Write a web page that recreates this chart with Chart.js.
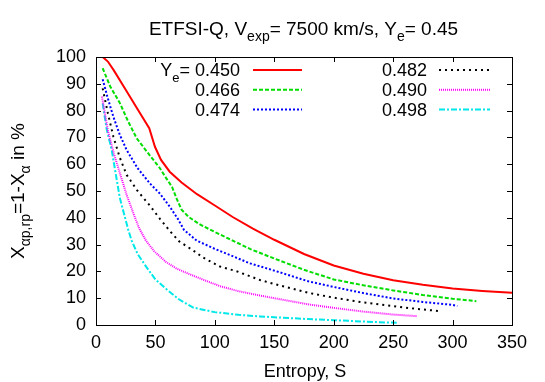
<!DOCTYPE html>
<html>
<head>
<meta charset="utf-8">
<script src="https://cdn.jsdelivr.net/npm/chart.js@4.4.1/dist/chart.umd.min.js"></script>
<style>
  html, body { margin: 0; padding: 0; background: #fff; }
  #wrap { width: 545px; height: 382px; }
</style>
</head>
<body>
<div id="wrap"><canvas id="chart"></canvas></div>
<script>
// Entropy S vs X_ap,rp (%) for each Ye
const S_450 = [5.6, 10, 15, 25, 35, 44.8, 49.6, 54.7, 62, 72, 85, 100, 115, 132, 150, 175, 200, 225, 250, 275, 300, 325, 350];
const X_450 = [100, 98.3, 95, 87.8, 80.5, 73.4, 66.5, 61.6, 57.2, 53.2, 48.8, 44.6, 40.3, 36, 31.8, 26.5, 22.2, 19.1, 16.7, 15, 13.6, 12.7, 12];

const S_466 = [5.6, 12, 20.2, 27, 34.2, 44, 53.8, 58, 64, 68, 72, 78, 87.5, 100, 115, 130, 150, 175, 200, 225, 250, 275, 300, 320];
const X_466 = [95.8, 89, 82.7, 76, 69.7, 64, 58.5, 55.5, 51.5, 47, 43, 40.3, 37.5, 34.7, 31.5, 28.3, 24.8, 20.6, 17, 14.8, 12.9, 11.2, 9.8, 8.9];

const S_474 = [5.6, 10, 14.6, 20, 25.8, 35, 45.4, 53.8, 62.3, 69, 74, 84.7, 100, 110, 129.5, 150, 178.6, 200, 225, 250, 275, 300, 304];
const X_474 = [91.7, 84.5, 77.7, 71, 65.3, 58.5, 52.8, 49, 44, 39.5, 35.5, 31.5, 28.4, 26.6, 23, 20.3, 16.3, 14.2, 11.9, 9.9, 8.6, 7.5, 7.1];

const S_482 = [5.6, 10, 14.6, 20, 25.8, 35, 45.4, 53.8, 62.3, 70, 81.8, 90, 104.3, 118, 137.9, 150, 178.6, 200, 225, 250, 270, 289];
const X_482 = [88.3, 79, 70.3, 62.5, 56, 50, 44.5, 39.6, 35, 31.2, 27.8, 25.2, 21.8, 20.1, 16.8, 15.3, 12, 10.2, 8.4, 7, 6, 5.2];

const S_490 = [5, 10, 15, 20.2, 25.8, 32, 36.4, 42, 49, 58.9, 68, 78.5, 92.5, 104.3, 120, 137.9, 150, 178.6, 200, 225, 250, 270];
const X_490 = [85.2, 72.5, 64, 56.5, 48.5, 41, 36, 31.5, 27.5, 23.5, 21, 19, 16.5, 14.5, 12.6, 11, 10, 7.7, 6.4, 5, 3.9, 3.3];

const S_498 = [5.6, 9, 13.2, 20, 27.2, 30, 35, 42.6, 50, 59.4, 70, 81.8, 100, 120, 137.9, 150, 178.6, 200, 225, 253];
const X_498 = [82.7, 73, 65.3, 47.5, 35.4, 31.5, 26.5, 21.5, 17, 13.3, 9.5, 6.5, 4.8, 3.8, 3.2, 2.9, 2.2, 1.8, 1.3, 0.8];

const X_TICKS = [0, 50, 100, 150, 200, 250, 300, 350];
const Y_TICKS = [0, 10, 20, 30, 40, 50, 60, 70, 80, 90, 100];

const FONT_FAMILY = '"Liberation Sans", Arial, Helvetica, sans-serif';

const SERIES = [
  { ye: '0.450', s: S_450, x: X_450, color: '#ff0000', dash: [] },
  { ye: '0.466', s: S_466, x: X_466, color: '#00dd00', dash: [4, 2] },
  { ye: '0.474', s: S_474, x: X_474, color: '#0000ff', dash: [2, 2] },
  { ye: '0.482', s: S_482, x: X_482, color: '#000000', dash: [2, 4] },
  { ye: '0.490', s: S_490, x: X_490, color: '#ff00ff', dash: [1, 1] },
  { ye: '0.498', s: S_498, x: X_498, color: '#00e8e8', dash: [6, 2, 2, 2] },
];

function toPoints(sArr, xArr) {
  return sArr.map((s, i) => ({ x: s, y: xArr[i] }));
}

// text with subscripts, parts = [{t, sub}]
function richWidth(ctx, parts, size) {
  let w = 0;
  parts.forEach(p => {
    ctx.font = (p.sub ? size - 5 : size) + 'px ' + FONT_FAMILY;
    w += ctx.measureText(p.t).width;
  });
  return w;
}
function drawRich(ctx, parts, x, y, size) {
  ctx.textAlign = 'left';
  ctx.textBaseline = 'alphabetic';
  parts.forEach(p => {
    ctx.font = (p.sub ? size - 5 : size) + 'px ' + FONT_FAMILY;
    ctx.fillText(p.t, x, p.sub ? y + 6 : y);
    x += ctx.measureText(p.t).width;
  });
}

const TITLE = [
  { t: 'ETFSI-Q, V' }, { t: 'exp', sub: true }, { t: '= 7500 km/s, Y' }, { t: 'e', sub: true }, { t: '= 0.45' },
];
const Y_TITLE = [
  { t: 'X' }, { t: '\u03b1p,rp', sub: true }, { t: '=1-X' }, { t: '\u03b1', sub: true }, { t: ' in %' },
];
const X_TITLE = 'Entropy, S';

// gnuplot look: box, inward ticks on all sides, labels, key
const gnuplotFrame = {
  id: 'gnuplotFrame',
  afterDraw(chart) {
    const ctx = chart.ctx;
    const a = chart.chartArea;
    const xs = chart.scales.x, ys = chart.scales.y;
    const tl = 5;
    ctx.save();
    ctx.strokeStyle = '#000';
    ctx.lineWidth = 1;
    ctx.setLineDash([]);
    ctx.beginPath();
    X_TICKS.forEach(v => {
      const px = Math.round(xs.getPixelForValue(v)) + 0.5;
      ctx.moveTo(px, a.bottom); ctx.lineTo(px, a.bottom - tl);
      ctx.moveTo(px, a.top); ctx.lineTo(px, a.top + tl);
    });
    Y_TICKS.forEach(v => {
      const py = Math.round(ys.getPixelForValue(v)) + 0.5;
      ctx.moveTo(a.left, py); ctx.lineTo(a.left + tl, py);
      ctx.moveTo(a.right, py); ctx.lineTo(a.right - tl, py);
    });
    ctx.stroke();
    ctx.strokeRect(Math.round(a.left) + 0.5, Math.round(a.top) + 0.5,
                   Math.round(a.right - a.left), Math.round(a.bottom - a.top));

    ctx.fillStyle = '#000';
    // title
    const tw = richWidth(ctx, TITLE, 19);
    drawRich(ctx, TITLE, 303.5 - tw / 2, 35, 19);

    // x axis title
    ctx.font = '18px ' + FONT_FAMILY;
    ctx.textAlign = 'center';
    ctx.textBaseline = 'alphabetic';
    ctx.fillText(X_TITLE, 305, 377);

    // y axis title, rotated
    ctx.save();
    ctx.translate(24, 191);
    ctx.rotate(-Math.PI / 2);
    const yw = richWidth(ctx, Y_TITLE, 19);
    drawRich(ctx, Y_TITLE, -yw / 2, 0, 19);
    ctx.restore();

    // key, two columns of three
    SERIES.forEach((sr, i) => {
      const col = Math.floor(i / 3), row = i % 3;
      const cy = 70 + row * 19.8;
      const textRight = col === 0 ? 240 : 427;
      const lineX0 = col === 0 ? 253 : 439;
      const lineX1 = col === 0 ? 302 : 490;
      const parts = (i === 0)
        ? [{ t: 'Y' }, { t: 'e', sub: true }, { t: '= ' + sr.ye }]
        : [{ t: sr.ye }];
      const w = richWidth(ctx, parts, 18);
      ctx.fillStyle = '#000';
      drawRich(ctx, parts, textRight - w, cy + 6.4, 18);
      ctx.strokeStyle = sr.color;
      ctx.lineWidth = 2;
      ctx.setLineDash(sr.dash);
      ctx.beginPath();
      ctx.moveTo(lineX0, cy);
      ctx.lineTo(lineX1, cy);
      ctx.stroke();
    });
    ctx.restore();
  }
};

new Chart(document.getElementById('chart'), {
  type: 'scatter',
  data: {
    datasets: SERIES.map(sr => ({
      label: sr.ye,
      data: toPoints(sr.s, sr.x),
      showLine: true,
      borderColor: sr.color,
      backgroundColor: sr.color,
      borderWidth: 2,
      borderDash: sr.dash,
      pointRadius: 0,
      tension: 0,
      fill: false,
    })),
  },
  options: {
    responsive: true,
    maintainAspectRatio: false,
    animation: false,
    layout: { padding: { top: 57, right: 33, left: 0, bottom: 0 } },
    plugins: {
      legend: { display: false },
      title: { display: false },
      tooltip: { enabled: false },
    },
    scales: {
      x: {
        type: 'linear',
        min: 0,
        max: 350,
        afterBuildTicks: s => { s.ticks = X_TICKS.map(v => ({ value: v })); },
        afterFit: s => { s.height = 57; },
        grid: { display: false, drawTicks: false },
        border: { display: false },
        ticks: {
          padding: 7,
          color: '#000',
          maxRotation: 0,
          font: { family: FONT_FAMILY, size: 18 },
        },
      },
      y: {
        type: 'linear',
        min: 0,
        max: 100,
        afterBuildTicks: s => { s.ticks = Y_TICKS.map(v => ({ value: v })); },
        afterFit: s => { s.width = 96; },
        grid: { display: false, drawTicks: false },
        border: { display: false },
        ticks: {
          padding: 10,
          color: '#000',
          font: { family: FONT_FAMILY, size: 18 },
        },
      },
    },
  },
  plugins: [gnuplotFrame],
});
</script>
</body>
</html>
